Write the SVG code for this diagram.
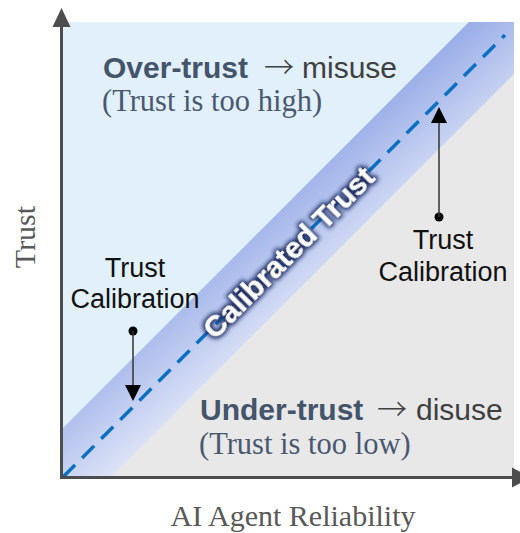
<svg xmlns="http://www.w3.org/2000/svg" width="520" height="533" viewBox="0 0 520 533">
  <defs>
    <style>
      .sans { font-family: "Liberation Sans", Arial, sans-serif; }
      .serif { font-family: "Liberation Serif", "Times New Roman", serif; }
      .zone-title { font-size: 30px; font-weight: bold; fill: #44546a; }
      .zone-text { font-size: 30px; fill: #404040; }
      .zone-arrow { font-family: "Noto Sans CJK SC", "DejaVu Sans", sans-serif; font-size: 30px; font-weight: 300; fill: #404040; }
      .zone-note { font-size: 30.5px; fill: #4a5870; }
      .callout { font-size: 27px; fill: #111111; text-anchor: middle; }
      .axis-label { font-size: 30px; fill: #595959; text-anchor: middle; }
      .axis { stroke: #4d4d4d; stroke-width: 3; fill: none; }
      .axis-head { fill: #4d4d4d; }
      .pointer { stroke: #333333; stroke-width: 1.5; fill: none; }
      .pointer-head { fill: #000000; }
      .band-label { font-size: 30px; font-weight: bold; fill: #ffffff; text-anchor: middle; }
    </style>
    <linearGradient id="bandFill" gradientUnits="userSpaceOnUse" x1="215" y1="247" x2="284" y2="326">
      <stop offset="0" stop-color="#9aaee8"/>
      <stop offset="1" stop-color="#dde3f7"/>
    </linearGradient>
    <filter id="glow" x="-20%" y="-50%" width="140%" height="200%">
      <feMorphology in="SourceAlpha" operator="dilate" radius="2" result="thick"/>
      <feGaussianBlur in="thick" stdDeviation="2.2" result="soft"/>
      <feFlood flood-color="#1b2f68" flood-opacity="1"/>
      <feComposite in2="soft" operator="in" result="shade"/>
      <feMerge>
        <feMergeNode in="shade"/>
        <feMergeNode in="SourceGraphic"/>
      </feMerge>
    </filter>
  </defs>

  <!-- plot regions -->
  <g id="regions">
    <rect id="over-trust-zone" x="63" y="22" width="451" height="454" fill="#e1f0fa"/>
    <polygon id="under-trust-zone" points="514,74 514,476 112,476" fill="#e8e8e8"/>
    <polygon id="calibrated-band" points="469,22 514,22 514,74 112,476 63,476 63,428" fill="url(#bandFill)"/>
    <line id="calibration-line" x1="63" y1="477" x2="505" y2="35" stroke="#0a70c0" stroke-width="3.5" stroke-dasharray="17 10"/>
  </g>

  <!-- axes -->
  <g id="axes">
    <line class="axis" x1="61.5" y1="478" x2="61.5" y2="24"/>
    <polygon class="axis-head" points="61.5,8 52.5,27 70.5,27"/>
    <line class="axis" x1="60" y1="477.5" x2="514" y2="477.5"/>
    <polygon class="axis-head" points="512,467.5 512,487.5 531,477.5"/>
    <text class="serif axis-label" transform="translate(35,237) rotate(-90)">Trust</text>
    <text class="serif axis-label" x="293" y="526">AI Agent Reliability</text>
  </g>

  <!-- over-trust label -->
  <g id="over-trust">
    <text class="sans zone-title" x="103" y="78">Over-trust</text>
    <text class="zone-arrow" x="264" y="78">→</text>
    <text class="sans zone-text" x="302" y="78">misuse</text>
    <text class="serif zone-note" x="102" y="111">(Trust is too high)</text>
  </g>

  <!-- under-trust label -->
  <g id="under-trust">
    <text class="sans zone-title" x="200" y="420">Under-trust</text>
    <text class="zone-arrow" x="377" y="420">→</text>
    <text class="sans zone-text" x="416" y="420">disuse</text>
    <text class="serif zone-note" x="199" y="454">(Trust is too low)</text>
  </g>

  <!-- band label -->
  <g id="calibrated-trust">
    <text class="sans band-label" transform="translate(288,252) rotate(-45)" y="11" filter="url(#glow)">Calibrated Trust</text>
  </g>

  <!-- calibration pointers -->
  <g id="connectors">
    <g id="pointer-down">
      <circle cx="133" cy="331" r="4.5" fill="#000000"/>
      <line class="pointer" x1="133" y1="331" x2="133" y2="387"/>
      <polygon class="pointer-head" points="133,401 125,385 141,385"/>
    </g>
    <g id="pointer-up">
      <circle cx="439" cy="217" r="4.5" fill="#000000"/>
      <line class="pointer" x1="439" y1="217" x2="439" y2="121"/>
      <polygon class="pointer-head" points="439,107 431,123 447,123"/>
    </g>
  </g>

  <g id="calibration-left">
    <text class="sans callout" x="135" y="277">Trust</text>
    <text class="sans callout" x="135" y="308">Calibration</text>
  </g>
  <g id="calibration-right">
    <text class="sans callout" x="443" y="249">Trust</text>
    <text class="sans callout" x="443" y="281">Calibration</text>
  </g>
</svg>
